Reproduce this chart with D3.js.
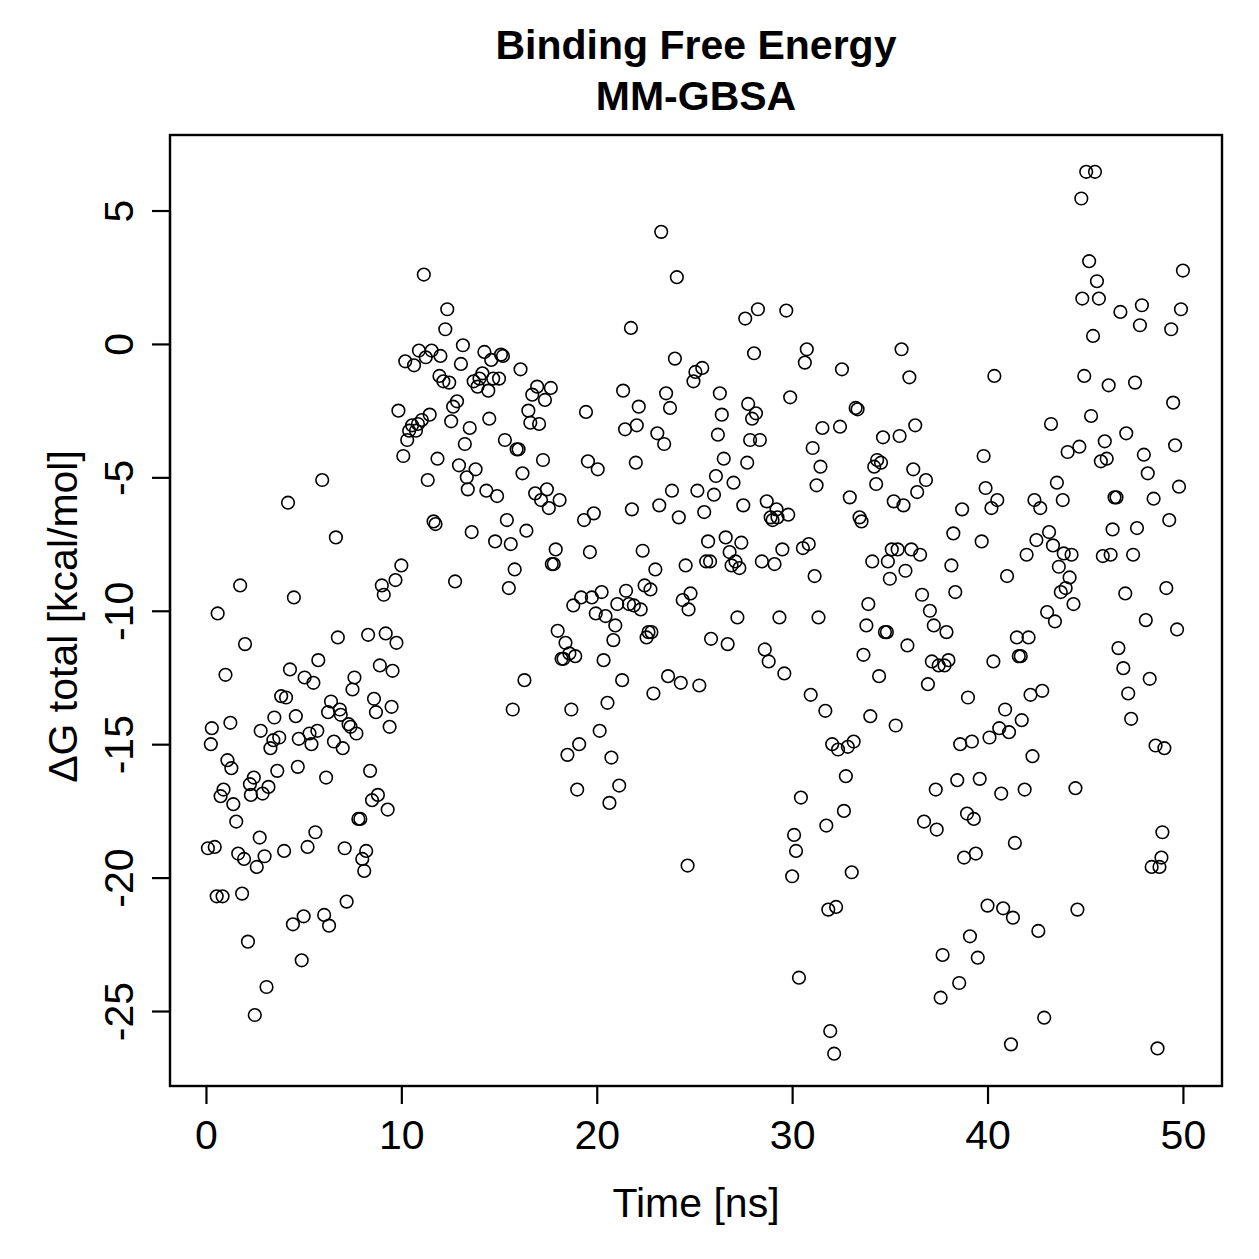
<!DOCTYPE html>
<html>
<head>
<meta charset="utf-8">
<script src="https://cdn.jsdelivr.net/npm/d3@7"></script>
<style>
  body { margin: 0; background: #fff; }
  svg { font-family: "Liberation Sans", Arial, Helvetica, sans-serif; }
</style>
</head>
<body>
<svg width="1259" height="1259"></svg>
<script>
// time [ns]
const time = [
  0.1,0.25,0.3,0.45,0.55,0.6,0.75,0.85,0.9,1.0,
  1.1,1.25,1.3,1.4,1.55,1.65,1.75,1.85,1.95,2.0,
  2.15,2.25,2.3,2.45,2.5,2.6,2.75,2.8,2.9,3.0,
  3.1,3.2,3.3,3.45,3.5,3.65,3.75,3.85,4.0,4.1,
  4.2,4.3,4.45,4.5,4.6,4.7,4.75,4.9,5.0,5.05,
  5.2,5.3,5.4,5.5,5.6,5.7,5.75,5.95,6.05,6.15,
  6.25,6.3,6.4,6.55,6.65,6.75,6.85,6.9,7.0,7.1,
  7.2,7.3,7.4,7.5,7.6,7.7,7.8,7.9,8.0,8.1,
  8.2,8.3,8.4,8.5,8.6,8.7,8.8,8.9,9.0,9.1,
  9.2,9.3,9.4,9.5,9.55,9.7,9.75,9.85,10.0,10.1,
  10.2,10.3,10.4,10.55,10.65,10.75,10.85,10.9,11.05,11.15,
  11.25,11.35,11.45,11.55,11.65,11.75,11.85,11.95,12.0,12.15,
  12.25,12.35,12.45,12.55,12.65,12.75,12.85,12.95,13.05,13.15,
  13.25,13.35,13.4,13.5,13.6,13.7,13.8,13.9,14.0,14.15,
  14.25,14.35,14.45,14.5,14.6,14.7,14.8,14.9,15.0,15.1,
  15.2,15.3,15.4,15.5,15.6,15.7,15.8,15.9,16.0,16.1,
  16.2,16.3,16.4,16.5,16.6,16.7,16.85,16.95,17.05,17.15,
  17.25,17.35,17.45,17.55,17.65,17.7,17.8,17.9,18.0,18.1,
  18.2,18.3,18.4,18.5,18.6,18.7,18.8,18.9,19.0,19.1,
  19.2,19.35,19.45,19.55,19.65,19.75,19.85,19.95,20.05,20.15,
  20.25,20.35,20.45,20.55,20.65,20.75,20.85,20.95,21.05,21.15,
  21.3,21.35,21.45,21.5,21.65,21.75,21.8,21.9,22.0,22.05,
  22.15,22.25,22.35,22.45,22.55,22.65,22.75,22.8,22.9,23.0,
  23.1,23.2,23.3,23.45,23.55,23.65,23.75,23.85,24.0,24.1,
  24.2,24.3,24.4,24.55,24.65,24.7,24.8,24.95,25.05,25.15,
  25.25,25.4,25.5,25.6,25.7,25.8,25.85,26.0,26.1,26.2,
  26.3,26.4,26.5,26.6,26.7,26.8,26.9,27.0,27.1,27.2,
  27.3,27.4,27.5,27.6,27.7,27.75,27.85,27.95,28.05,28.15,
  28.25,28.35,28.45,28.6,28.7,28.8,28.9,29.0,29.1,29.2,
  29.25,29.35,29.5,29.6,29.7,29.8,29.9,30.0,30.1,30.2,
  30.35,30.45,30.55,30.65,30.75,30.85,30.95,31.05,31.15,31.25,
  31.35,31.45,31.55,31.7,31.75,31.85,31.95,32.05,32.15,32.25,
  32.35,32.45,32.55,32.65,32.75,32.85,32.95,33.05,33.15,33.25,
  33.35,33.45,33.55,33.65,33.8,33.9,34.0,34.1,34.2,34.3,
  34.35,34.45,34.55,34.65,34.75,34.85,34.9,35.0,35.1,35.2,
  35.3,35.4,35.5,35.6,35.7,35.8,35.9,36.0,36.1,36.2,
  36.3,36.4,36.55,36.65,36.75,36.85,36.95,37.05,37.15,37.25,
  37.35,37.4,37.5,37.6,37.7,37.8,37.9,38.0,38.15,38.25,
  38.35,38.45,38.55,38.6,38.7,38.8,38.95,39.0,39.1,39.2,
  39.3,39.4,39.5,39.6,39.7,39.8,39.9,40.0,40.1,40.2,
  40.3,40.35,40.5,40.6,40.7,40.8,40.9,41.0,41.1,41.2,
  41.3,41.4,41.5,41.6,41.7,41.75,41.9,42.0,42.1,42.2,
  42.3,42.4,42.5,42.6,42.7,42.8,42.9,43.05,43.15,43.25,
  43.35,43.45,43.55,43.65,43.75,43.85,43.9,44.0,44.1,44.2,
  44.3,44.4,44.5,44.6,44.7,44.8,44.85,44.95,45.05,45.2,
  45.3,45.4,45.5,45.6,45.7,45.8,45.9,46.0,46.1,46.2,
  46.3,46.4,46.5,46.6,46.7,46.8,46.95,47.05,47.1,47.2,
  47.35,47.45,47.55,47.65,47.8,47.9,48.0,48.1,48.2,48.3,
  48.4,48.5,48.6,48.7,48.8,48.9,48.95,49.05,49.15,49.3,
  49.4,49.5,49.6,49.7,49.8,49.9,50.0
];

// dG total [kcal/mol]
const dG = [
  -18.9,-15.0,-14.4,-18.85,-20.7,-10.1,-16.95,-20.7,-16.7,-12.4,
  -15.6,-14.2,-15.9,-17.25,-17.9,-19.1,-9.05,-20.6,-19.3,-11.25,
  -22.4,-16.5,-16.9,-16.25,-25.15,-19.6,-18.5,-14.5,-16.85,-19.2,
  -24.1,-16.6,-15.15,-14.85,-14.0,-16.0,-14.75,-13.2,-19.0,-13.25,
  -5.95,-12.2,-21.75,-9.5,-13.95,-15.85,-14.8,-23.1,-21.45,-12.5,
  -18.85,-14.6,-15.0,-12.7,-18.3,-14.5,-11.85,-5.1,-21.4,-16.25,
  -13.8,-21.8,-13.4,-14.9,-7.25,-11.0,-13.7,-13.9,-15.15,-18.9,
  -20.9,-14.25,-14.35,-12.95,-12.5,-14.6,-17.8,-17.8,-19.3,-19.75,
  -19.0,-10.9,-16.0,-17.1,-13.3,-13.8,-16.9,-12.05,-9.05,-9.4,
  -10.85,-17.45,-14.35,-13.6,-12.25,-8.85,-11.2,-2.5,-8.3,-4.2,
  -0.65,-3.6,-3.25,-3.05,-0.8,-3.25,-3.0,-0.25,-2.85,2.6,
  -0.5,-5.1,-2.65,-0.25,-6.65,-6.75,-4.3,-1.2,-0.45,-1.4,
  0.55,1.3,-1.45,-2.9,-2.35,-8.9,-2.15,-4.55,-0.75,-0.05,
  -3.75,-5.0,-5.45,-3.15,-7.05,-1.4,-4.7,-1.6,-1.3,-1.1,
  -0.3,-5.5,-1.75,-2.8,-0.6,-1.3,-7.4,-5.7,-1.3,-0.4,
  -0.45,-3.6,-6.6,-9.15,-7.5,-13.7,-8.45,-3.95,-3.95,-0.95,
  -4.85,-12.6,-7.0,-2.5,-2.95,-1.9,-5.6,-1.6,-3.0,-5.85,
  -4.35,-2.1,-5.45,-6.15,-1.65,-8.25,-8.25,-7.7,-10.75,-5.85,
  -11.8,-11.8,-11.2,-15.4,-11.6,-13.7,-9.8,-11.7,-16.7,-15.0,
  -9.5,-6.6,-2.55,-4.4,-7.8,-9.5,-6.35,-10.1,-4.7,-14.5,
  -9.3,-11.85,-10.2,-13.45,-17.2,-15.5,-11.1,-10.55,-9.75,-16.55,
  -12.6,-1.75,-3.2,-9.25,-9.75,0.6,-6.2,-9.8,-4.45,-3.05,
  -2.35,-9.95,-7.75,-9.05,-11.0,-10.8,-9.2,-10.8,-13.1,-8.45,
  -3.35,-6.05,4.2,-3.75,-1.85,-12.45,-2.4,-5.5,-0.55,2.5,
  -6.5,-12.7,-9.6,-8.3,-19.55,-9.95,-9.35,-1.4,-1.05,-5.5,
  -12.8,-0.9,-6.3,-8.15,-7.4,-8.15,-11.05,-5.65,-4.95,-3.4,
  -1.85,-2.65,-4.3,-7.25,-11.25,-7.8,-8.3,-5.2,-8.15,-10.25,
  -8.4,-7.45,-6.05,0.95,-4.45,-2.25,-3.6,-2.8,-0.35,-2.6,
  1.3,-3.6,-8.15,-11.45,-5.9,-11.9,-6.5,-6.6,-8.25,-6.2,
  -6.5,-10.25,-7.7,-12.35,1.25,-6.4,-2.0,-19.95,-18.4,-19.0,
  -23.75,-17.0,-7.65,-0.7,-0.2,-7.5,-13.15,-3.9,-8.7,-5.3,
  -10.25,-4.6,-3.15,-13.75,-18.05,-21.2,-25.75,-15.0,-26.6,-21.1,
  -15.2,-3.1,-0.95,-17.5,-16.2,-15.1,-5.75,-19.8,-14.9,-2.4,
  -2.45,-6.5,-6.65,-11.65,-10.55,-9.75,-13.95,-8.15,-4.6,-5.25,
  -4.35,-12.45,-4.45,-3.5,-10.8,-10.8,-8.15,-8.8,-7.7,-5.9,
  -14.3,-7.7,-3.45,-0.2,-6.05,-8.5,-11.3,-1.25,-7.7,-4.7,
  -3.05,-5.55,-7.9,-9.4,-17.9,-5.1,-12.75,-10.0,-11.9,-10.55,
  -16.7,-18.2,-12.05,-24.5,-22.9,-12.05,-10.8,-11.85,-8.3,-7.1,
  -9.3,-16.35,-23.95,-15.0,-6.2,-19.25,-17.6,-13.25,-22.2,-14.9,
  -17.8,-19.1,-23.0,-16.3,-7.4,-4.2,-5.4,-21.05,-14.75,-6.15,
  -11.9,-1.2,-5.85,-14.4,-16.85,-21.15,-13.7,-8.7,-14.55,-26.25,
  -21.5,-18.7,-11.0,-11.7,-11.7,-14.1,-16.7,-7.9,-11.0,-13.15,
  -15.45,-5.85,-7.35,-22.0,-6.15,-13.0,-25.25,-10.05,-7.05,-3.0,
  -7.55,-10.4,-5.2,-8.35,-9.3,-5.85,-7.85,-9.15,-4.05,-8.75,
  -7.9,-9.75,-16.65,-21.2,-3.85,5.45,1.7,-1.2,6.45,3.1,
  -2.7,0.3,6.45,2.35,1.7,-4.4,-7.95,-3.65,-4.3,-1.55,
  -7.9,-6.95,-5.75,-5.75,-11.4,1.2,-12.15,-9.35,-3.35,-13.1,
  -14.05,-7.9,-1.45,-6.9,0.7,1.45,-4.15,-10.35,-4.85,-12.55,
  -19.6,-5.8,-15.05,-26.4,-19.6,-19.25,-18.3,-15.15,-9.15,-6.6,
  0.55,-2.2,-3.8,-10.7,-5.35,1.3,2.75
];

const xTicks = [0, 10, 20, 30, 40, 50];
const yTicks = [5, 0, -5, -10, -15, -20, -25];

const svg = d3.select('svg');
const plotL = 170, plotR = 1222, plotT = 135, plotB = 1086;

let x = d3.scaleLinear().domain([-1.84, 52.0]).range([plotL, plotR]);
let y = d3.scaleLinear().domain([-27.81, 7.83]).range([plotB, plotT]);

// points
svg.append('g')
  .selectAll('circle')
  .data(time.map((t, i) => [t, dG[i]]))
  .join('circle')
  .attr('cx', d => x(d[0]))
  .attr('cy', d => y(d[1]))
  .attr('r', 6.3)
  .attr('fill', 'none')
  .attr('stroke', '#000')
  .attr('stroke-width', 1.6);

// x axis
let xAxis = svg.append('g')
  .attr('transform', `translate(0,${plotB})`)
  .call(d3.axisBottom(x).tickValues(xTicks).tickFormat(d => String(d))
    .tickSize(18).tickSizeOuter(0).tickPadding(16));
xAxis.select('.domain').attr('d', `M${x(0)},0H${x(50)}`);
xAxis.selectAll('line, path').attr('stroke', '#000').attr('stroke-width', 2.2);
xAxis.selectAll('text')
  .attr('font-size', 41)
  .attr('font-family', '"Liberation Sans", Arial, sans-serif')
  .attr('fill', '#000');

// y axis, R style: plain hyphen minus, labels turned upright
let yAxis = svg.append('g')
  .attr('transform', `translate(${plotL},0)`)
  .call(d3.axisLeft(y).tickValues(yTicks).tickFormat(d => String(d))
    .tickSize(18).tickSizeOuter(0));
yAxis.select('.domain').attr('d', `M0,${y(-25)}V${y(5)}`);
yAxis.selectAll('line, path').attr('stroke', '#000').attr('stroke-width', 2.2);
yAxis.selectAll('text')
  .attr('transform', 'rotate(-90)')
  .attr('x', 0)
  .attr('y', -37)
  .attr('dy', null)
  .attr('text-anchor', 'middle')
  .attr('font-size', 41)
  .attr('font-family', '"Liberation Sans", Arial, sans-serif')
  .attr('fill', '#000');

// box
svg.append('rect')
  .attr('x', plotL).attr('y', plotT)
  .attr('width', plotR - plotL).attr('height', plotB - plotT)
  .attr('fill', 'none').attr('stroke', '#000').attr('stroke-width', 2.4);

// titles
const cx = (plotL + plotR) / 2;
svg.append('text').attr('x', cx).attr('y', 59)
  .attr('text-anchor', 'middle').attr('font-size', 41).attr('font-weight', 'bold')
  .text('Binding Free Energy');
svg.append('text').attr('x', cx).attr('y', 110)
  .attr('text-anchor', 'middle').attr('font-size', 41).attr('font-weight', 'bold')
  .text('MM-GBSA');

svg.append('text').attr('x', cx).attr('y', 1217)
  .attr('text-anchor', 'middle').attr('font-size', 41)
  .text('Time [ns]');

svg.append('text')
  .attr('transform', `translate(77,${(plotT + plotB) / 2 + 6}) rotate(-90)`)
  .attr('text-anchor', 'middle').attr('font-size', 41)
  .text('ΔG total [kcal/mol]');
</script>
</body>
</html>
